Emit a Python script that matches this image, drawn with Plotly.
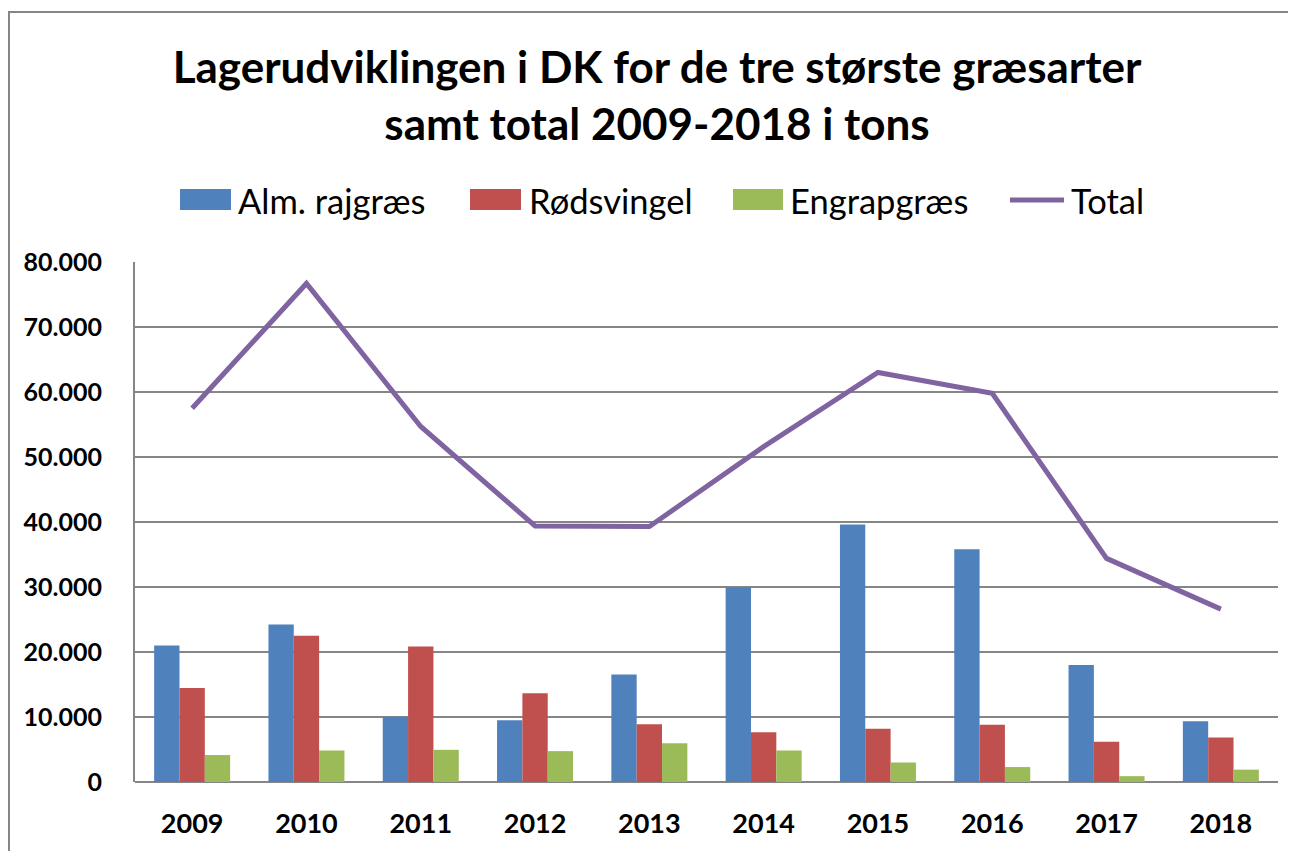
import plotly.graph_objects as go

years = ["2009", "2010", "2011", "2012", "2013", "2014", "2015", "2016", "2017", "2018"]
alm_rajgraes = [21000, 24250, 10050, 9500, 16550, 29950, 39600, 35800, 18000, 9350]
rodsvingel = [14450, 22500, 20850, 13650, 8900, 7650, 8200, 8800, 6200, 6850]
engrapgraes = [4150, 4850, 4950, 4750, 5950, 4850, 3000, 2300, 900, 1900]
total = [57500, 76700, 54700, 39400, 39300, 51600, 63000, 59800, 34400, 26600]

series_names = ["Alm. rajgræs", "Rødsvingel", "Engrapgræs", "Total"]
colors = ["#4F81BD", "#C0504D", "#9BBB59", "#8064A2"]
title_text = "Lagerudviklingen i DK for de tre største græsarter<br>samt total 2009-2018 i tons"

OFF = 8  # page body margin
W, H = 1296 - OFF, 851 - OFF
# plot area in screen pixels
SL, SR, ST, SB = 135, 1278, 262, 782
L, R, T, B = SL - OFF, SR - OFF, ST - OFF, SB - OFF
FONT = "Lato, 'Open Sans', sans-serif"
GRID = "#868686"


def px(sx):
    return (sx - SL) / (SR - SL)


def py(sy):
    return (SB - sy) / (SB - ST)


fig = go.Figure()
for name, vals, col in zip(series_names[:3], [alm_rajgraes, rodsvingel, engrapgraes], colors[:3]):
    fig.add_trace(go.Bar(x=years, y=vals, name=name, marker=dict(color=col, line=dict(width=0)),
                         showlegend=False))
fig.add_trace(go.Scatter(x=years, y=total, name=series_names[3], mode="lines",
                         line=dict(color=colors[3], width=5), showlegend=False))

shapes = []
annotations = []
# custom legend (wide keys as in the reference)
legend_items = [
    (180, 231, 236, "bar"),
    (470, 521, 527, "bar"),
    (733, 783, 788, "bar"),
    (1010, 1064, 1069, "line"),
]
for (x0, x1, xt, kind), name, col in zip(legend_items, series_names, colors):
    if kind == "bar":
        shapes.append(dict(type="rect", xref="paper", yref="paper", x0=px(x0), x1=px(x1),
                           y0=py(210), y1=py(189), fillcolor=col, line=dict(width=0), layer="above"))
    else:
        shapes.append(dict(type="line", xref="paper", yref="paper", x0=px(x0), x1=px(x1),
                           y0=py(200), y1=py(200), line=dict(color=col, width=5), layer="above"))
    annotations.append(dict(text=name, xref="paper", yref="paper", x=px(xt), y=py(200),
                            xanchor="left", yanchor="middle", showarrow=False,
                            font=dict(family=FONT, size=34.5, color="#000000")))

# outer chart border
shapes.append(dict(type="line", xref="paper", yref="paper", x0=px(OFF), x1=px(1296),
                   y0=py(12), y1=py(12), line=dict(color=GRID, width=2)))
shapes.append(dict(type="line", xref="paper", yref="paper", x0=px(9), x1=px(9),
                   y0=py(12), y1=py(851), line=dict(color=GRID, width=2)))

fig.update_layout(
    width=W, height=H,
    margin=dict(l=L, r=W - R, t=T, b=H - B, autoexpand=False),
    paper_bgcolor="white", plot_bgcolor="white",
    separators=",.",
    barmode="group", bargap=0.335, bargroupgap=0,
    title=dict(text=title_text, x=(657 - OFF) / W, xanchor="center", y=1 - 75 / H, yanchor="middle",
               font=dict(family=FONT, size=44, color="#000000", weight="bold")),
    shapes=shapes, annotations=annotations,
    showlegend=False,
    font=dict(family=FONT, color="#000000"),
)
fig.update_xaxes(automargin=False, showline=False, showgrid=False, ticks="", ticklabelstandoff=23,
                 tickfont=dict(family=FONT, size=27, weight="bold", color="#000000"))
fig.update_yaxes(automargin=False, range=[0, 80000], dtick=10000, tickformat=",d", showgrid=True,
                 gridcolor=GRID, gridwidth=2, zeroline=True, zerolinecolor=GRID, zerolinewidth=2,
                 showline=True, linecolor=GRID, linewidth=2, ticks="", ticklabelstandoff=26,
                 tickfont=dict(family=FONT, size=25, weight="bold", color="#000000"))

fig.write_html("out.html")
